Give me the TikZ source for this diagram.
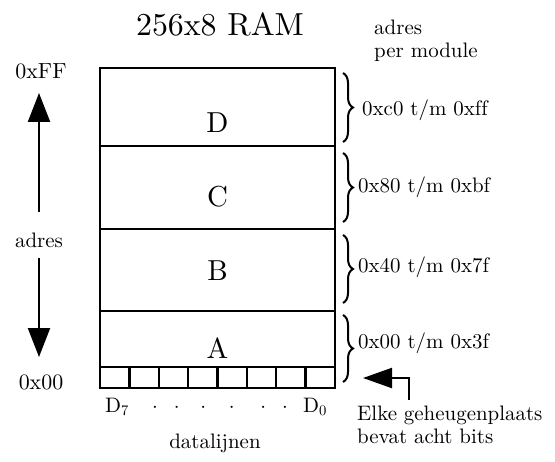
\documentclass[tikz,border=0pt]{standalone}
\usepackage{fontspec}
\setmainfont{lmroman10-regular}[Extension=.otf,Ligatures=CommonOff]
\usetikzlibrary{arrows.meta,decorations.pathreplacing}
\begin{document}
\begin{tikzpicture}[x=1bp,y=-1bp,
  box/.style={draw,line width=2.4bp,inner sep=0,minimum width=235bp},
  cellbox/.style={draw,line width=2.4bp,inner sep=0,minimum width=29.375bp,minimum height=21bp},
  small/.style={font=\fontsize{21}{25}\selectfont,inner sep=0},
  mid/.style={font=\fontsize{22}{26}\selectfont,inner sep=0},
  big/.style={font=\fontsize{29}{34}\selectfont,inner sep=0},
  arr/.style={line width=2.2bp,-{Triangle[width=22bp,length=29bp]}},
  brc/.style={decorate,decoration={brace,amplitude=10bp},line width=2bp}]
\useasboundingbox (0,0) rectangle (555,462);
% modules
\node[box,minimum height=78bp] (D) at (217.5,107) {};
\node[box,minimum height=83bp] (C) at (217.5,187.5) {};
\node[box,minimum height=82bp] (B) at (217.5,270) {};
\node[box,minimum height=56bp] (A) at (217.5,339) {};
\foreach \i in {0,...,7}
  \node[cellbox] (c\i) at ({100+29.375*(7-\i)+14.6875},377.5) {};
% left arrows
\coordinate (upS) at (39,212);
\coordinate (upT) at (39,93);
\coordinate (dnS) at (39,258);
\coordinate (dnT) at (39,357);
\draw[arr] (upS) -- (upT);
\draw[arr] (dnS) -- (dnT);
% braces
\draw[brc] (343,73) -- (343,142);
\draw[brc] (343,153) -- (343,222);
\draw[brc] (343,235) -- (343,303);
\draw[brc] (343,315) -- (343,382);
% note arrow
\coordinate (bS) at (409,400);
\coordinate (bT) at (363,378);
\draw[line width=2.2bp,-{Triangle[width=20bp,length=29bp]}] (bS) |- (bT);
% ---- texts ----
\node[font=\fontsize{32}{38}\selectfont,inner sep=0] (title) at (220,24) {256x8 RAM};
\node[small,anchor=base west] (adr) at (374,35) {adres};
\node[small,anchor=base west] (pm) at (374,58) {per module};
\node[big] (lD) at (217.5,123) {D};
\node[big] (lC) at (217.5,197) {C};
\node[big] (lB) at (217.5,271) {B};
\node[big] (lA) at (217.5,348) {A};
\node[mid] (ff) at (41,71) {0xFF};
\node[mid] (zz) at (41,382) {0x00};
\node[small] (adres) at (39,240) {adres};
\node[small,anchor=west] (rD) at (362,110) {0xc0 t/m 0xff};
\node[small,anchor=west] (rC) at (358,187) {0x80 t/m 0xbf};
\node[small,anchor=west] (rB) at (358,267) {0x40 t/m 0x7f};
\node[small,anchor=west] (rA) at (358,343) {0x00 t/m 0x3f};
\node[small,anchor=base west] (d7) at (105,412) {D\textsubscript{7}};
\node[small,anchor=base west] (d0) at (303,412) {D\textsubscript{0}};
\foreach \x [count=\k] in {155,176.7,203.3,231.7,263.3,285}
  \node[small,anchor=base] (dot\k) at (\x,412) {$\cdot$};
\node[small,anchor=base] (dl) at (215,448) {datalijnen};
\node[small,anchor=base west] (n1) at (357,420) {Elke geheugenplaats};
\node[small,anchor=base west] (n2) at (357,443) {bevat acht bits};
\end{tikzpicture}
\end{document}
